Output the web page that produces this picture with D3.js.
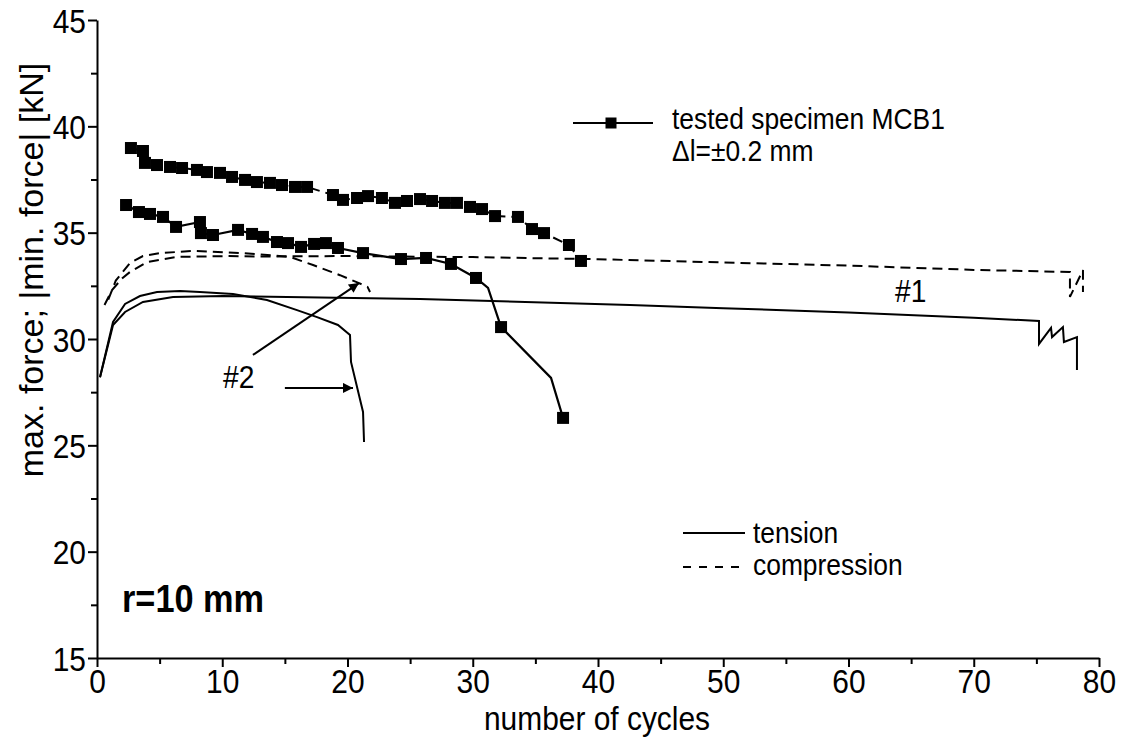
<!DOCTYPE html>
<html>
<head>
<meta charset="utf-8">
<script src="https://cdn.jsdelivr.net/npm/d3@7"></script>
<style>
  html, body { margin: 0; padding: 0; background: #fff; }
  svg { display: block; }
  text { font-family: "Liberation Sans", Arial, sans-serif; fill: #000; }
</style>
</head>
<body>
<svg id="chart" width="1127" height="751"></svg>
<script>
// Tested specimen MCB1 (squares): compression branch (dashed) and tension branch (solid)
const mcbCompX = [2.71,3.67,3.83,4.79,5.83,6.79,7.98,8.78,9.82,10.78,11.82,12.77,13.81,14.77,15.81,16.77,18.84,19.64,20.76,21.64,22.75,23.79,24.75,25.79,26.75,27.78,28.74,29.78,30.74,31.78,33.61,34.73,35.69,37.68,38.64];
const mcbCompY = [38.98,38.84,38.28,38.18,38.09,38.04,37.95,37.85,37.81,37.62,37.48,37.38,37.34,37.24,37.15,37.15,36.77,36.54,36.63,36.72,36.63,36.40,36.49,36.58,36.49,36.40,36.40,36.21,36.11,35.78,35.74,35.17,34.98,34.42,33.67];

const mcbTensX = [2.32,3.35,4.23,5.27,6.31,8.22,8.30,9.26,11.26,12.38,13.25,14.37,15.25,16.29,17.33,18.28,19.24,21.24,24.27,26.27,28.26,30.26,32.26,37.21];
const mcbTensY = [36.30,35.97,35.88,35.74,35.27,35.50,34.98,34.89,35.13,34.94,34.80,34.56,34.51,34.33,34.47,34.51,34.28,34.04,33.76,33.81,33.53,32.87,30.56,26.29];
// extra vertices of the tension branch between two measured points
const mcbTensBendX = [31.22, 36.25];
const mcbTensBendY = [32.40, 28.17];

// Specimen #1: tension (solid) and compression (dashed)
const t1X = [0.24,1.28,2.24,3.67,6.07,10.06,25.79,42.55,50,60,70,75.21,75.21,76.17,76.25,77.12,77.2,78.24,78.24];
const t1Y = [28.2,30.66,31.27,31.74,31.98,32.02,31.88,31.6,31.45,31.25,31.0,30.85,29.77,30.52,30.09,30.56,29.86,30.09,28.54];
const c1X = [0.6,1.2,2.0,2.63,3.99,6.39,10.38,13.0,20,30,40,50,60,70,77.68,77.68,78.72,78.72];
const c1Y = [31.6,32.3,32.85,33.15,33.62,33.86,33.9,33.88,33.9,33.85,33.75,33.6,33.45,33.25,33.15,31.98,33.24,32.21];

// Specimen #2: tension (solid) and compression (dashed)
const t2X = [0.24,1.28,2.24,3.43,4.79,6.63,8.22,10.86,13.57,15.97,17.57,19.24,20.2,20.28,21.24,21.32];
const t2Y = [28.2,30.8,31.65,32.02,32.21,32.26,32.21,32.12,31.83,31.36,31.03,30.66,30.19,28.92,26.57,25.16];
const c2X = [0.9,1.5,2.63,3.67,5.03,7.66,11.66,15.41,17.25,19.4,20.92,21.6,21.8];
const c2Y = [31.85,32.75,33.57,33.9,34.04,34.14,34.04,33.86,33.48,33.0,32.63,32.45,32.21];

// Axis ticks
const xTicks = [0,10,20,30,40,50,60,70,80];
const xMinor = [5,15,25,35,45,55,65,75];
const yTicks = [15,20,25,30,35,40,45];
const yMinor = [17.5,22.5,27.5,32.5,37.5,42.5];

// Annotation arrows: start and tip points in data units
const arrowFrom = [[12.45, 29.25], [15.0, 27.7]];
const arrowTo   = [[20.92, 32.63], [20.44, 27.7]];

const svg = d3.select("#chart");
const x = d3.scaleLinear().domain([0, 80]).range([97, 1099]);
const y = d3.scaleLinear().domain([15, 45]).range([658, 20]);
const SX = 0.88; // horizontal condensing of the lettering

const zip = (xs, ys) => xs.map((v, i) => [v, ys[i]]);
const line = d3.line().x(d => x(d[0])).y(d => y(d[1]));

function label(px, py, str, size, anchor, weight) {
  return svg.append("text")
    .attr("transform", `translate(${px},${py}) scale(${SX},1)`)
    .style("font-size", size + "px")
    .attr("text-anchor", anchor || "start")
    .attr("font-weight", weight || "normal")
    .text(str);
}

// Axes
const gx = svg.append("g").attr("transform", `translate(0,${y(15)})`);
gx.call(d3.axisBottom(x).tickValues(xTicks).tickSize(9).tickPadding(3).tickSizeOuter(0).tickFormat(d3.format("d")));
const gxm = svg.append("g").attr("transform", `translate(0,${y(15)})`);
gxm.call(d3.axisBottom(x).tickValues(xMinor).tickSize(6).tickSizeOuter(0).tickFormat(""));
gxm.select(".domain").remove();

const gy = svg.append("g").attr("transform", `translate(${x(0)},0)`);
gy.call(d3.axisLeft(y).tickValues(yTicks).tickSize(9).tickPadding(3).tickSizeOuter(0).tickFormat(d3.format("d")));
const gym = svg.append("g").attr("transform", `translate(${x(0)},0)`);
gym.call(d3.axisLeft(y).tickValues(yMinor).tickSize(6).tickSizeOuter(0).tickFormat(""));
gym.select(".domain").remove();

svg.selectAll(".domain").attr("stroke", "#000").attr("stroke-width", 2);
svg.selectAll(".tick line").attr("stroke", "#000").attr("stroke-width", 2);

gx.selectAll(".tick text")
  .style("font-size", "34px").style("font-family", "Liberation Sans, Arial, sans-serif")
  .attr("y", 0).attr("dy", 0)
  .attr("transform", `translate(0,35) scale(${SX},1)`);
gy.selectAll(".tick text")
  .style("font-size", "34px").style("font-family", "Liberation Sans, Arial, sans-serif")
  .attr("x", 0).attr("dy", "0.36em")
  .attr("transform", `translate(-11,0) scale(${SX},1)`);

// Axis titles
label(597, 730, "number of cycles", 34, "middle");
svg.append("text")
  .attr("transform", "translate(43,270) rotate(-90)")
  .style("font-size", "34px")
  .attr("text-anchor", "middle")
  .text("max. force; |min. force| [kN]");

// Curves of specimens #1 and #2
const plot = svg.append("g").attr("fill", "none").attr("stroke", "#000");
plot.append("path").attr("d", line(zip(t1X, t1Y))).attr("stroke-width", 2);
plot.append("path").attr("d", line(zip(t2X, t2Y))).attr("stroke-width", 2);
plot.append("path").attr("d", line(zip(c1X, c1Y))).attr("stroke-width", 2).attr("stroke-dasharray", "10,6");
plot.append("path").attr("d", line(zip(c2X, c2Y))).attr("stroke-width", 2).attr("stroke-dasharray", "10,6");

// Specimen MCB1
const tensLine = zip(mcbTensX, mcbTensY).concat(zip(mcbTensBendX, mcbTensBendY)).sort((a, b) => a[0] - b[0]);
plot.append("path").attr("d", line(zip(mcbCompX, mcbCompY))).attr("stroke-width", 2).attr("stroke-dasharray", "10,6");
plot.append("path").attr("d", line(tensLine)).attr("stroke-width", 2.2);

const S = 12;
svg.append("g").selectAll("rect")
  .data(zip(mcbCompX, mcbCompY).concat(zip(mcbTensX, mcbTensY)))
  .join("rect")
  .attr("x", d => x(d[0]) - S / 2).attr("y", d => y(d[1]) - S / 2)
  .attr("width", S).attr("height", S).attr("fill", "#000");

// Arrows
const defs = svg.append("defs");
defs.append("marker").attr("id", "head").attr("viewBox", "0 0 10 10")
  .attr("refX", 10).attr("refY", 5).attr("markerWidth", 7.5).attr("markerHeight", 5)
  .attr("markerUnits", "strokeWidth").attr("orient", "auto")
  .append("path").attr("d", "M0,0 L10,5 L0,10 Z").attr("fill", "#000");
arrowFrom.forEach((a, i) => {
  svg.append("line")
    .attr("x1", x(a[0])).attr("y1", y(a[1]))
    .attr("x2", x(arrowTo[i][0])).attr("y2", y(arrowTo[i][1]))
    .attr("stroke", "#000").attr("stroke-width", 2)
    .attr("marker-end", "url(#head)");
});

// Labels
label(223, 388, "#2", 32);
label(895, 302, "#1", 32);
label(122, 612, "r=10 mm", 39, "start", "bold");

// Legend: MCB1
svg.append("line").attr("x1", 573).attr("x2", 653).attr("y1", 123).attr("y2", 123)
  .attr("stroke", "#000").attr("stroke-width", 2);
svg.append("rect").attr("x", 611 - 5.5).attr("y", 123 - 5.5).attr("width", 11).attr("height", 11).attr("fill", "#000");
label(672, 129, "tested specimen MCB1", 30);
label(672, 161, "\u0394l=\u00b10.2 mm", 30);

// Legend: line styles
svg.append("line").attr("x1", 683).attr("x2", 745).attr("y1", 533).attr("y2", 533)
  .attr("stroke", "#000").attr("stroke-width", 2);
svg.append("line").attr("x1", 683).attr("x2", 740).attr("y1", 567).attr("y2", 567)
  .attr("stroke", "#000").attr("stroke-width", 2).attr("stroke-dasharray", "8,8");
label(753, 543, "tension", 30);
label(753, 575, "compression", 30);
</script>
</body>
</html>
